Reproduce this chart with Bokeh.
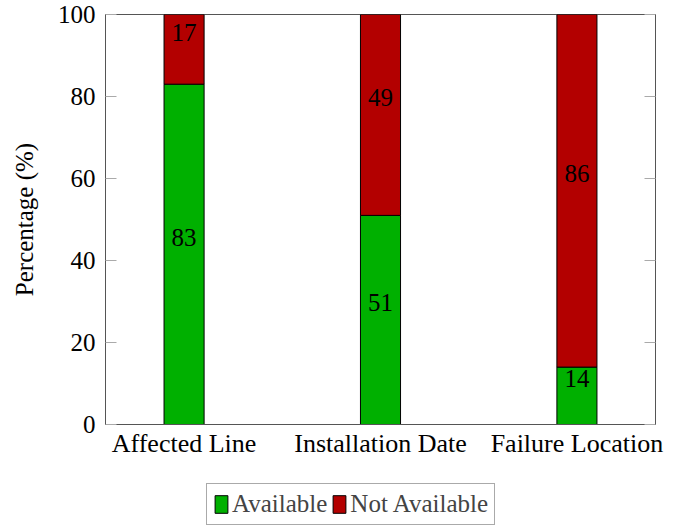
from bokeh.plotting import figure
from bokeh.layouts import column
from bokeh.models import Range1d, LinearAxis, FixedTicker, Legend, LegendItem, ColumnDataSource
from bokeh.core.properties import value
from bokeh.embed import file_html
from bokeh.resources import INLINE

categories = ["Affected Line", "Installation Date", "Failure Location"]
available = [83, 51, 14]
not_available = [17, 49, 86]
series_names = ["Available", "Not Available"]
series_colors = ["#00b000", "#b30000"]
y_ticks = [0, 20, 40, 60, 80, 100]

FONT = "Liberation Serif"
AXC = "#555555"
W = 680

xs = list(range(len(categories)))
src = ColumnDataSource(dict(x=xs, avail=available, notav=not_available))

p = figure(width=W, height=480, x_range=Range1d(-0.4, 2.4), y_range=Range1d(0, 100),
           output_backend="svg", toolbar_location=None,
           min_border_left=105, min_border_right=W - 655, min_border_top=14, min_border_bottom=56)
p.xgrid.visible = False
p.ygrid.visible = False
p.outline_line_color = AXC
p.background_fill_color = "white"
p.border_fill_color = "white"

r = p.vbar_stack(["avail", "notav"], x="x", width=0.204, source=src,
                 color=series_colors, line_color="black", line_width=1)

# labels at segment midpoints
lab_x, lab_y, lab_t = [], [], []
for i in xs:
    lab_x.append(i); lab_y.append(available[i] / 2); lab_t.append(str(available[i]))
    lab_x.append(i); lab_y.append(available[i] + not_available[i] / 2); lab_t.append(str(not_available[i]))
p.text(x=lab_x, y=lab_y, text=lab_t, text_align="center", text_baseline="middle",
       y_offset=-17, text_font=value(FONT), text_font_size="25px", text_color="black")

# axes
xa = p.xaxis[0]
xa.ticker = FixedTicker(ticks=xs)
xa.major_label_overrides = {i: c for i, c in enumerate(categories)}
xa.major_tick_in = 0
xa.major_tick_out = 0
xa.minor_tick_line_color = None
xa.axis_line_color = AXC
xa.major_label_text_font = FONT
xa.major_label_text_font_size = "26px"
xa.major_label_standoff = 4
xa.major_label_text_color = "black"

ya = p.yaxis[0]
ya.ticker = FixedTicker(ticks=y_ticks)
ya.major_tick_in = 11
ya.major_tick_out = 0
ya.major_tick_line_color = "#aaaaaa"
ya.minor_tick_line_color = None
ya.axis_line_color = AXC
ya.major_label_text_font = FONT
ya.major_label_text_font_size = "25px"
ya.major_label_standoff = 10
ya.major_label_text_color = "black"
ya.axis_label = "Percentage (%)"
ya.axis_label_text_font = FONT
ya.axis_label_text_font_size = "25px"
ya.axis_label_text_font_style = "normal"
ya.axis_label_standoff = 17
ya.axis_label_text_color = "black"

ra = LinearAxis(ticker=FixedTicker(ticks=y_ticks), major_label_text_color=None,
                major_label_text_font_size="1px", major_tick_in=11, major_tick_out=0,
                major_tick_line_color="#aaaaaa", minor_tick_line_color=None,
                axis_line_color=AXC, major_label_standoff=0)
p.add_layout(ra, "right")

# legend figure (hidden proxy renderers with the same data and styles)
lg = figure(width=W, height=46, x_range=Range1d(-0.4, 2.4), y_range=Range1d(0, 100),
            output_backend="svg", toolbar_location=None,
            min_border_left=0, min_border_right=0, min_border_top=0, min_border_bottom=0)
lg.axis.visible = False
lg.xgrid.visible = False
lg.ygrid.visible = False
lg.outline_line_color = None
lg.border_fill_color = "white"
lr = lg.vbar_stack(["avail", "notav"], x="x", width=0.204, source=src,
                   color=series_colors, line_color="black", line_width=1)
for rr in lr:
    rr.visible = False
items = [LegendItem(label=name, renderers=[rr]) for name, rr in zip(series_names, lr)]
legend = Legend(items=items, orientation="horizontal", location=(101, 1),
                label_text_font=FONT, label_text_font_size="25px",
                glyph_width=16, glyph_height=22, label_standoff=3, spacing=4,
                padding=6, margin=0, border_line_color="#555555",
                label_height=25, inactive_fill_alpha=0)
lg.add_layout(legend, "center")

open("out.html", "w").write(file_html(column(p, lg, spacing=0), INLINE))
